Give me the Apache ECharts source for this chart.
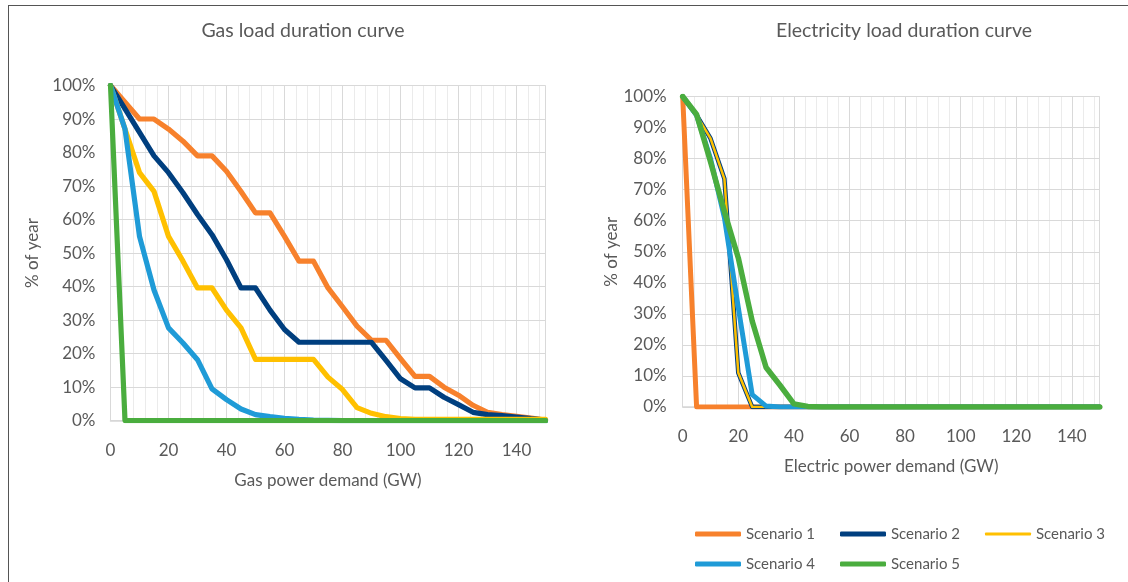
<!DOCTYPE html>
<html>
<head>
<meta charset="utf-8">
<script src="https://cdn.jsdelivr.net/npm/echarts@6/dist/echarts.min.js"></script>
<style>
html,body{margin:0;padding:0;background:#fff;}
#wrap{position:relative;width:1128px;height:582px;overflow:hidden;}
#chart{position:absolute;left:0;top:0;width:1128px;height:582px;}
#frame{position:absolute;left:8px;top:5px;width:1200px;height:700px;border-top:1.5px solid #555;border-left:1.5px solid #555;pointer-events:none;}
</style>
</head>
<body>
<div id="wrap"><div id="chart"></div><div id="frame"></div></div>
<script>
// Shared demand grid (GW)
const demandGW = [0,5,10,15,20,25,30,35,40,45,50,55,60,65,70,75,80,85,90,95,100,105,110,115,120,125,130,135,140,145,150];
const scenarioNames = ['Scenario 1','Scenario 2','Scenario 3','Scenario 4','Scenario 5'];
const yTickSuffix = '%';

// Gas load duration curve (% of year)
const gasS1 = [100,95,90,90,87,83.4,79,79,74.4,68.4,62,62,55,47.6,47.6,39.6,34,28.2,24,24,18.5,13.2,13.2,10,7.6,4.6,2.5,1.8,1.3,0.8,0.2];
const gasS2 = [100,93,86,79,74,68,61.5,55.5,48,39.6,39.6,33,27.2,23.4,23.4,23.4,23.4,23.4,23.4,18,12.5,9.8,9.8,7,4.8,2.5,1.8,1.5,1.1,0.6,0.2];
const gasS3 = [100,87,74,68.4,55,47.6,39.6,39.6,33,27.7,18.3,18.3,18.3,18.3,18.3,13,9.3,3.9,2.2,1.2,0.6,0.4,0.4,0.4,0.4,0.4,0.4,0.4,0.4,0.4,0.4];
const gasS4 = [100,87,55,39,27.7,23.2,18.2,9.5,6.3,3.5,1.8,1.2,0.7,0.4,0.2,0.1,0,0,0,0,0,0,0,0,0,0,0,0,0,0,0];
const gasS5 = [100,0,0,0,0,0,0,0,0,0,0,0,0,0,0,0,0,0,0,0,0,0,0,0,0,0,0,0,0,0,0];

// Electricity load duration curve (% of year)
const elecS1 = [100,0,0,0,0,0,0,0,0,0,0,0,0,0,0,0,0,0,0,0,0,0,0,0,0,0,0,0,0,0,0];
const elecS2 = [100,94,86.5,73.5,11,0,0,0,0,0,0,0,0,0,0,0,0,0,0,0,0,0,0,0,0,0,0,0,0,0,0];
const elecS3 = [100,94,86.5,73.5,11,0,0,0,0,0,0,0,0,0,0,0,0,0,0,0,0,0,0,0,0,0,0,0,0,0,0];
const elecS4 = [100,94,80,61,32,4,0.3,0,0,0,0,0,0,0,0,0,0,0,0,0,0,0,0,0,0,0,0,0,0,0,0];
const elecS5 = [100,94.2,79,63,48,27.7,12.7,7,1,0.2,0,0,0,0,0,0,0,0,0,0,0,0,0,0,0,0,0,0,0,0,0];

const colors = ['#f7812c','#003f7f','#ffc000','#1f9bd7','#4aad3e'];
const FONT = 'Lato';
const TXT = '#595959';

function mk(name, vals, axisIdx, color, width, z) {
  return {
    type: 'line', name: name,
    xAxisIndex: axisIdx, yAxisIndex: axisIdx,
    data: demandGW.map((x, i) => [x, vals[i]]),
    symbol: 'none', showSymbol: false, silent: true, animation: false,
    lineStyle: { color: color, width: width, cap: 'round', join: 'round' },
    itemStyle: { color: color }, z: z
  };
}

const elecSets = [elecS1, elecS2, elecS3, elecS4, elecS5];
const gasSets = [gasS1, gasS2, gasS3, gasS4, gasS5];
const elecWidths = [5, 4.5, 2.5, 5, 5.5];
const gasWidths = [5.2, 5.2, 5.2, 5.2, 5.2];

const series = [];
elecSets.forEach((d, i) => series.push(mk(scenarioNames[i], d, 1, colors[i], elecWidths[i], 3 + i)));
gasSets.forEach((d, i) => series.push(mk(scenarioNames[i], d, 0, colors[i], gasWidths[i], 3 + i)));

function majorX(gi, name) {
  return {
    gridIndex: gi, type: 'value', min: 0, max: 150, interval: 20, z: 1,
    axisLabel: { showMaxLabel: false, margin: 21, fontSize: 17, color: TXT, fontFamily: FONT },
    axisLine: { show: true, lineStyle: { color: '#d6d6d6', width: 1.5 } },
    axisTick: { show: false },
    splitLine: { show: true, lineStyle: { color: '#d9d9d9', width: 1 } },
    name: name, nameLocation: 'middle', nameGap: 51,
    nameTextStyle: { fontSize: 17, color: TXT, fontFamily: FONT }
  };
}
function minorX(gi) {
  return {
    gridIndex: gi, type: 'value', min: 0, max: 150, interval: 4, z: 0,
    axisLabel: { show: false }, axisLine: { show: false }, axisTick: { show: false },
    splitLine: { show: true, lineStyle: { color: '#ebebeb', width: 1 } }
  };
}
function yAx(gi, gap, margin) {
  return {
    gridIndex: gi, type: 'value', min: 0, max: 100, interval: 10, z: 1,
    axisLabel: { formatter: '{value}' + yTickSuffix, margin: margin, fontSize: 17, color: TXT, fontFamily: FONT },
    axisLine: { show: false }, axisTick: { show: false },
    splitLine: { show: true, lineStyle: { color: '#d9d9d9', width: 1 } },
    name: '% of year', nameLocation: 'middle', nameGap: gap, nameRotate: 90,
    nameTextStyle: { fontSize: 17, color: TXT, fontFamily: FONT }
  };
}

const legendPos = [[695,533],[840,533],[985,533],[695,563],[840,563]];
const legendThick = [5, 5, 3, 5, 5];
const legends = scenarioNames.map((n, i) => ({
  data: [n], left: legendPos[i][0], top: legendPos[i][1] - 6.5,
  orient: 'horizontal', icon: 'roundRect', itemWidth: 46, itemHeight: legendThick[i], padding: 0,
  selectedMode: false,
  textStyle: { fontSize: 15, color: TXT, fontFamily: FONT }
}));

const chart = echarts.init(document.getElementById('chart'), null, { renderer: 'canvas' });
chart.setOption({
  animation: false,
  backgroundColor: '#fff',
  grid: [
    { left: 110.5, top: 85.5, width: 435, height: 335.2, containLabel: false },
    { left: 682.7, top: 96.5, width: 417, height: 310.5, containLabel: false }
  ],
  xAxis: [ majorX(0, 'Gas power demand (GW)'), majorX(1, 'Electric power demand (GW)'), minorX(0), minorX(1) ],
  yAxis: [ yAx(0, 69, 15), yAx(1, 61, 16) ],
  legend: legends,
  graphic: [
    { type: 'text', x: 303, y: 31, style: { text: 'Gas load duration curve', fontSize: 19.5, fontFamily: FONT, fill: TXT, align: 'center', verticalAlign: 'middle' } },
    { type: 'text', x: 904, y: 31, style: { text: 'Electricity load duration curve', fontSize: 19.5, fontFamily: FONT, fill: TXT, align: 'center', verticalAlign: 'middle' } }
  ],
  series: series
});
</script>
</body>
</html>
